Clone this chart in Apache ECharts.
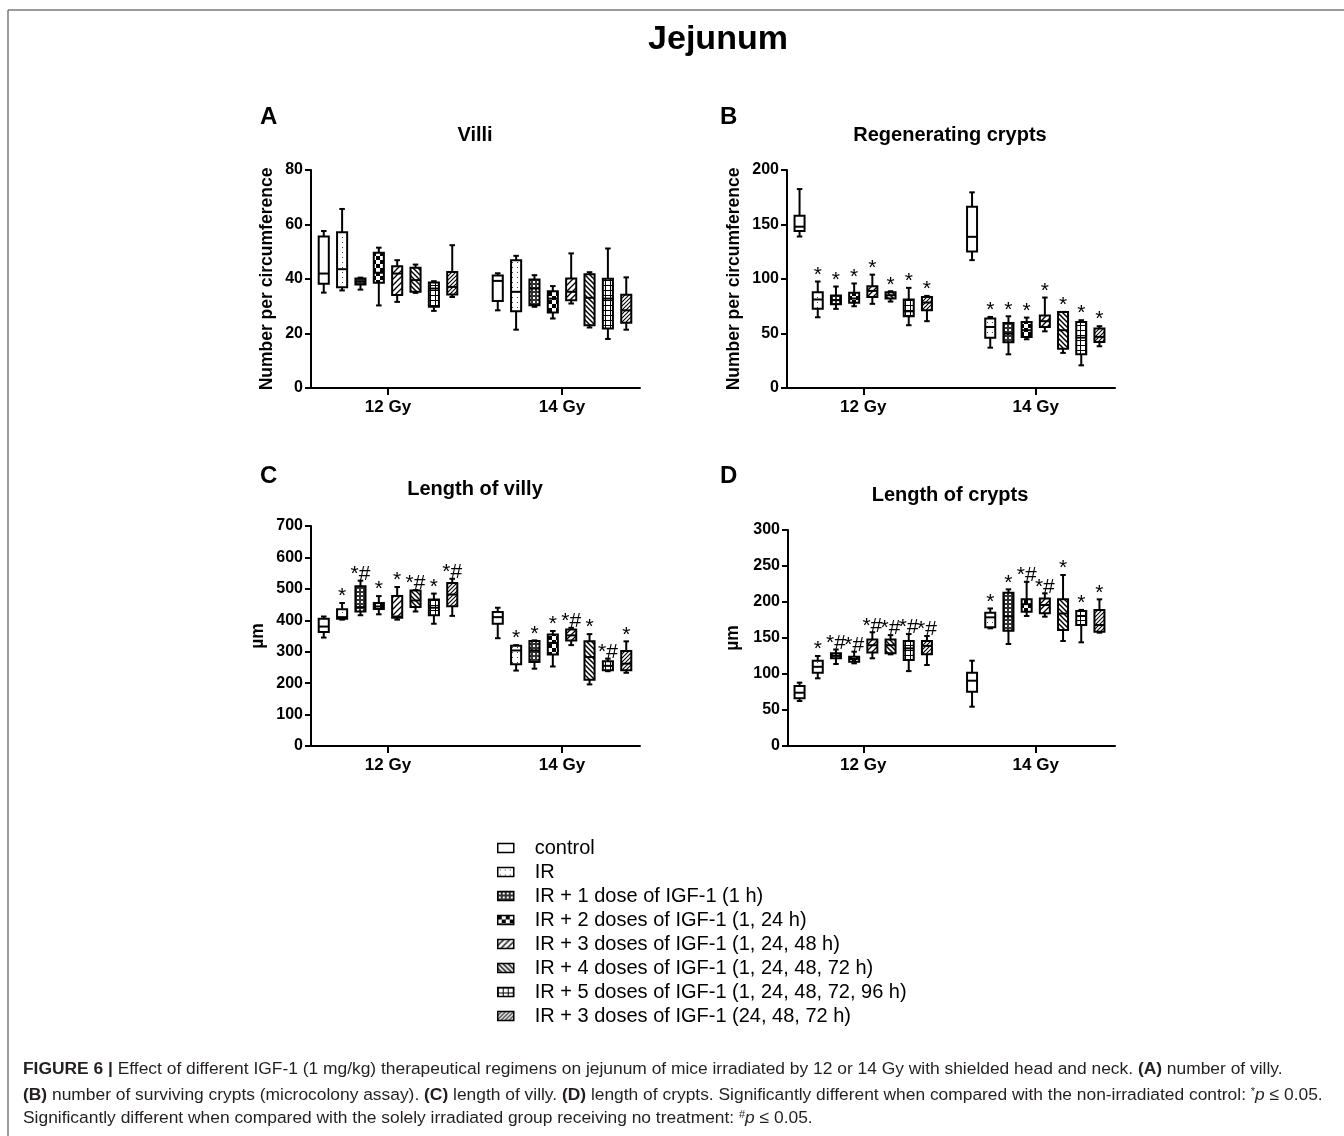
<!DOCTYPE html>
<html><head><meta charset="utf-8">
<script src="https://cdn.jsdelivr.net/npm/echarts@6/dist/echarts.min.js"></script>
<style>html,body{margin:0;padding:0;background:#fff}#chart{width:1344px;height:1136px}</style>
</head><body><div id="chart"></div>
<script>
// ---------------- data ----------------
const doseCategories = ['12 Gy', '14 Gy'];
const groupNames = [
  'control',
  'IR',
  'IR + 1 dose of IGF-1 (1 h)',
  'IR + 2 doses of IGF-1 (1, 24 h)',
  'IR + 3 doses of IGF-1 (1, 24, 48 h)',
  'IR + 4 doses of IGF-1 (1, 24, 48, 72 h)',
  'IR + 5 doses of IGF-1 (1, 24, 48, 72, 96 h)',
  'IR + 3 doses of IGF-1 (24, 48, 72 h)'
];
// each entry: [min, Q1, median, Q3, max]
const villi_12Gy = [[35.0,38.3,42.0,55.6,57.6],[35.8,37.0,43.6,57.2,65.7],[36.1,38.0,39.0,40.2,40.5],[30.3,38.6,42.3,49.6,51.5],[31.6,34.1,42.0,44.7,46.9],[34.9,35.3,39.6,44.1,45.3],[28.3,29.8,36.5,38.7,39.2],[33.4,34.3,37.1,42.6,52.4]];
const villi_14Gy = [[28.5,31.9,39.3,41.3,42.1],[21.4,28.2,35.3,46.9,48.5],[29.8,30.4,36.5,39.8,41.4],[25.5,27.7,32.8,35.5,37.4],[31.0,32.2,35.3,40.2,49.4],[22.2,23.0,33.1,41.7,42.5],[18.0,21.8,32.8,40.1,51.2],[21.4,23.9,28.5,34.2,40.6]];
const sig_villi_12Gy = ['','','','','','','',''];
const sig_villi_14Gy = ['','','','','','','',''];

const regen_12Gy = [[139,144,148,158,182.5],[64.9,72.6,81.2,87.9,97.7],[72.6,76.9,80.6,84.8,93.1],[75,78.1,82.1,87.3,95.9],[77.2,83.6,89.1,93.4,104],[79.3,82.1,85.1,87.9,88.8],[57.6,65.8,70.4,81.2,91.9],[61.3,71.4,78.4,83.6,84.5]];
const regen_14Gy = [[117.3,125.3,138.7,166.3,179.5],[37,46.2,56,63.7,65.2],[30.9,42,49.9,59.7,65.8],[44.7,46.9,53,60.6,64.6],[52,56,61.3,66.5,83],[32.2,36.1,53,69.8,69.8],[20.8,30.9,46.2,60.6,62.2],[38.3,42.3,46.9,54.5,56.7]];
const sig_regen_12Gy = ['','*','*','*','*','*','*','*'];
const sig_regen_14Gy = ['','*','*','*','*','*','*','*'];

const villusLen_12Gy = [[345,363,380,405,412],[402,405,410,435,455],[416,428,442,508,526],[419,436,444,455,477],[402,408,412,477,506],[428,442,463,495,496],[389,416,440,466,485],[414,445,482,519,532]];
const villusLen_14Gy = [[343,389,410,426,440],[240,260,304,319,321],[246,267,304,334,336],[253,291,328,355,366],[321,336,352,371,376],[196,211,283,333,356],[238,241,255,270,278],[233,241,262,302,333]];
const sig_villusLen_12Gy = ['','*','*#','*','*','*#','*','*#'];
const sig_villusLen_14Gy = ['','*','*','*','*#','*','*#','*'];

const cryptLen_12Gy = [[62.5,66.2,74,83.3,88],[94,101.9,110,118.5,125],[113.9,121.8,125.5,128.7,134],[114.8,117,120.8,124,131],[121.8,130,140,148,158],[127.3,128.7,140,148,154],[104,119.4,135.6,146,155.5],[112.5,127.3,139,146,152.8]];
const cryptLen_14Gy = [[54.6,75.5,90.7,101.9,118.5],[163.4,164.8,178.7,185,191],[141.7,160,180,213,217.6],[180.6,186.6,197,203.7,228],[179.6,184.3,195.8,205,212],[145.8,161,184,203.7,237.5],[144,168,180.6,187.5,189],[157.4,158.8,168,189,203.7]];
const sig_cryptLen_12Gy = ['','*','*#','*#','*#','*#','*#','*#'];
const sig_cryptLen_14Gy = ['','*','*','*#','*#','*','*','*'];

const yTicks_A = {max: 80, interval: 20};
const yTicks_B = {max: 200, interval: 50};
const yTicks_C = {max: 700, interval: 100};
const yTicks_D = {max: 300, interval: 50};

// ---------------- styles ----------------
const FONT = '"Liberation Sans", Arial, Helvetica, sans-serif';

function makePattern(kind) {
  const c = document.createElement('canvas');
  const sizes = {none: 4, dots: 5, fine: 4, checker: 8, fwd: 6, back: 5, grid: 5, fwd2: 4};
  const s = sizes[kind];
  c.width = s; c.height = s;
  const g = c.getContext('2d');
  g.fillStyle = '#fff'; g.fillRect(0, 0, s, s);
  g.fillStyle = '#000'; g.strokeStyle = '#000';
  if (kind === 'dots') { g.fillStyle = '#444'; g.fillRect(2, 2, 1, 1); }
  else if (kind === 'fine') { g.fillStyle = '#333'; g.fillRect(0, 0, s, s); g.fillStyle = '#fff'; g.fillRect(1, 1, 2, 2); }
  else if (kind === 'checker') { g.fillRect(0, 0, 4, 4); g.fillRect(4, 4, 4, 4); }
  else if (kind === 'fwd' || kind === 'fwd2') {
    g.lineWidth = kind === 'fwd' ? 1.3 : 1.1;
    [[-1, s + 1, s + 1, -1], [-1, 1, 1, -1], [s - 1, s + 1, s + 1, s - 1]].forEach(p => { g.beginPath(); g.moveTo(p[0], p[1]); g.lineTo(p[2], p[3]); g.stroke(); });
  }
  else if (kind === 'back') {
    g.lineWidth = 1.5;
    [[-1, -1, s + 1, s + 1], [s - 1, -1, s + 1, 1], [-1, s - 1, 1, s + 1]].forEach(p => { g.beginPath(); g.moveTo(p[0], p[1]); g.lineTo(p[2], p[3]); g.stroke(); });
  }
  else if (kind === 'grid') { g.fillRect(0, 0, s, 1); g.fillRect(0, 0, 1, s); }
  return {image: c, repeat: 'repeat'};
}
const patternKinds = ['none', 'dots', 'fine', 'checker', 'fwd', 'back', 'grid', 'fwd2'];
const patterns = patternKinds.map(makePattern);

function boxRenderer(groupIdx, sigByCat, fill) {
  return function (params, api) {
    const cat = api.value(0);
    const bw = api.size([1, 0])[0];
    const step = bw * 0.1055;
    const cx = api.coord([cat, 0])[0] + (groupIdx - 3.5) * step;
    const halfW = bw * 0.029;
    const capW = halfW * 0.55;
    const ys = [1, 2, 3, 4, 5].map(i => api.coord([cat, api.value(i)])[1]);
    const yMin = ys[0], yQ1 = ys[1], yMed = ys[2], yQ3 = ys[3], yMax = ys[4];
    const ln = (x1, y1, x2, y2) => ({type: 'line', shape: {x1, y1, x2, y2}, style: {stroke: '#000', lineWidth: 2}});
    const children = [
      ln(cx, yMax, cx, yQ3),
      ln(cx, yQ1, cx, yMin),
      ln(cx - capW, yMax, cx + capW, yMax),
      ln(cx - capW, yMin, cx + capW, yMin),
      {type: 'rect', shape: {x: cx - halfW, y: yQ3, width: 2 * halfW, height: yQ1 - yQ3}, style: {fill: fill, stroke: '#000', lineWidth: 2}},
      ln(cx - halfW, yMed, cx + halfW, yMed)
    ];
    const sig = sigByCat[cat][groupIdx];
    if (sig) {
      children.push({type: 'text', x: cx, y: yMax + 4, style: {text: sig, fill: '#000', font: '21px ' + FONT, align: 'center', verticalAlign: 'bottom'}});
    }
    return {type: 'group', children};
  };
}

// ---------------- panels ----------------
const panels = [
  {d12: villi_12Gy, d14: villi_14Gy, s12: sig_villi_12Gy, s14: sig_villi_14Gy, ticks: yTicks_A, name: 'Number per circumference', nameGap: 35,
   data: {left: 301, top: 170, width: 348, height: 218}, frame: {left: 311, top: 170, width: 329, height: 218}},
  {d12: regen_12Gy, d14: regen_14Gy, s12: sig_regen_12Gy, s14: sig_regen_14Gy, ticks: yTicks_B, name: 'Number per circumference', nameGap: 44,
   data: {left: 777, top: 170, width: 345, height: 218}, frame: {left: 787, top: 170, width: 328, height: 218}},
  {d12: villusLen_12Gy, d14: villusLen_14Gy, s12: sig_villusLen_12Gy, s14: sig_villusLen_14Gy, ticks: yTicks_C, name: 'µm', nameGap: 44,
   data: {left: 301, top: 526, width: 348, height: 220}, frame: {left: 311, top: 526, width: 329, height: 220}},
  {d12: cryptLen_12Gy, d14: cryptLen_14Gy, s12: sig_cryptLen_12Gy, s14: sig_cryptLen_14Gy, ticks: yTicks_D, name: 'µm', nameGap: 46,
   data: {left: 777, top: 530, width: 345, height: 216}, frame: {left: 788, top: 530, width: 327, height: 216}}
];

const grid = [], xAxis = [], yAxis = [], series = [];
panels.forEach((p, pi) => {
  grid[pi] = Object.assign({containLabel: false}, p.data);
  grid[pi + 4] = Object.assign({containLabel: false}, p.frame);
  xAxis[pi] = {
    type: 'category', gridIndex: pi, data: doseCategories, boundaryGap: true,
    axisLine: {show: false},
    axisTick: {show: true, alignWithLabel: true, length: 7, lineStyle: {color: '#000', width: 2}},
    axisLabel: {color: '#000', fontWeight: 'bold', fontSize: 17, fontFamily: FONT, margin: 11},
    splitLine: {show: false}
  };
  yAxis[pi] = {type: 'value', gridIndex: pi, min: 0, max: p.ticks.max, interval: p.ticks.interval, show: false};
  xAxis[pi + 4] = {
    type: 'value', gridIndex: pi + 4, min: 0, max: 1,
    axisLine: {show: true, lineStyle: {color: '#000', width: 2}},
    axisTick: {show: false}, axisLabel: {show: false}, splitLine: {show: false}
  };
  yAxis[pi + 4] = {
    type: 'value', gridIndex: pi + 4, min: 0, max: p.ticks.max, interval: p.ticks.interval,
    name: p.name, nameLocation: 'middle', nameGap: p.nameGap, nameRotate: 90,
    nameTextStyle: {color: '#000', fontWeight: 'bold', fontSize: 17.5, fontFamily: FONT},
    axisLine: {show: true, lineStyle: {color: '#000', width: 2}},
    axisTick: {show: true, length: 6, lineStyle: {color: '#000', width: 2}},
    axisLabel: {color: '#000', fontWeight: 'bold', fontSize: 16, fontFamily: FONT, margin: 8},
    splitLine: {show: false}
  };
  groupNames.forEach((gname, gi) => {
    series.push({
      type: 'custom', name: gname, xAxisIndex: pi, yAxisIndex: pi,
      itemStyle: {color: patterns[gi], borderColor: '#000', borderWidth: 1.5},
      encode: {x: 0, y: [1, 2, 3, 4, 5]},
      renderItem: boxRenderer(gi, [p.s12, p.s14], patterns[gi]),
      data: [[0].concat(p.d12[gi]), [1].concat(p.d14[gi])],
      silent: true
    });
  });
});

const txt = (x, y, text, size, align) => ({type: 'text', x, y, style: {text, fill: '#000', font: 'bold ' + size + 'px ' + FONT, align: align || 'center', verticalAlign: 'middle'}});
const capFont = 17.4;
const capRich = {
  b: {fontWeight: 'bold', fontSize: capFont, fontFamily: FONT, fill: '#231f20'},
  i: {fontStyle: 'italic', fontSize: capFont, fontFamily: FONT, fill: '#231f20'},
  sup: {fontSize: 11, fontFamily: FONT, fill: '#231f20', verticalAlign: 'top'}
};
const capLine = (y, text) => ({type: 'text', x: 23, y, style: {text, rich: capRich, fill: '#231f20', font: capFont + 'px ' + FONT, align: 'left', verticalAlign: 'middle'}});

const option = {
  backgroundColor: '#fff',
  animation: false,
  grid, xAxis, yAxis, series,
  legend: {
    orient: 'vertical', left: 497, top: 838, padding: 0, itemWidth: 16, itemHeight: 9, itemGap: 4, icon: 'rect', selectedMode: false,
    textStyle: {fontSize: 20, fontFamily: FONT, color: '#000', lineHeight: 20, padding: [0, 0, 0, 16]},
    data: groupNames.map((n, i) => ({name: n, icon: 'rect', itemStyle: {color: patterns[i], borderColor: '#000', borderWidth: 1.5}}))
  },
  graphic: [
    {type: 'line', shape: {x1: 8, y1: 10, x2: 1344, y2: 10}, style: {stroke: '#7a7a7a', lineWidth: 1.5}},
    {type: 'line', shape: {x1: 8, y1: 10, x2: 8, y2: 1136}, style: {stroke: '#7a7a7a', lineWidth: 1.5}},
    txt(718, 40, 'Jejunum', 34),
    txt(260, 117, 'A', 24, 'left'),
    txt(720, 117, 'B', 24, 'left'),
    txt(260, 476, 'C', 24, 'left'),
    txt(720, 476, 'D', 24, 'left'),
    txt(475, 135, 'Villi', 20),
    txt(950, 135, 'Regenerating crypts', 20),
    txt(475, 489, 'Length of villy', 20),
    txt(950, 495, 'Length of crypts', 20),
    capLine(1069, '{b|FIGURE 6 |} Effect of different IGF-1 (1 mg/kg) therapeutical regimens on jejunum of mice irradiated by 12 or 14 Gy with shielded head and neck. {b|(A)} number of villy.'),
    capLine(1095, '{b|(B)} number of surviving crypts (microcolony assay). {b|(C)} length of villy. {b|(D)} length of crypts. Significantly different when compared with the non-irradiated control: {sup|*}{i|p} ≤ 0.05.'),
    capLine(1118, 'Significantly different when compared with the solely irradiated group receiving no treatment: {sup|#}{i|p} ≤ 0.05.')
  ]
};
const chart = echarts.init(document.getElementById('chart'), null, {renderer: 'canvas'});
chart.setOption(option);
</script>
</body></html>
